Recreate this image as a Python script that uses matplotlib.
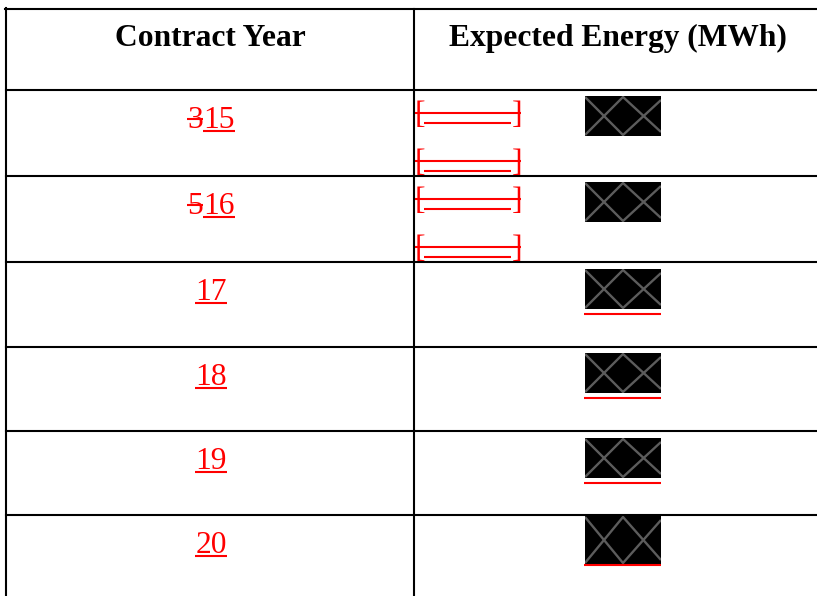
import matplotlib
matplotlib.use("Agg")
import matplotlib.pyplot as plt
from matplotlib.patches import Rectangle

# ---- table content ----
HEADERS    = ["Contract Year", "Expected Energy (MWh)"]
YEAR_OLD   = ["3", "5", "", "", "", ""]          # struck-out text
YEAR_NEW   = ["15", "16", "17", "18", "19", "20"]  # inserted (underlined) text
N_DELETED  = [2, 2, 0, 0, 0, 0]                  # struck "[____]" placeholders per row
BOX_UNDER  = [False, False, True, True, True, True]  # redacted value inserted

# ---- layout (pixels) ----
W, H = 817, 596
LEFT, MID = 6, 414
TOP = 9
ROW_LINES = [90, 176, 262, 347, 431, 515]
BOX_X0, BOX_X1 = 585, 661
BOX_OFF = [6, 6, 7, 6, 7, 1]
BOX_H = [40, 40, 40, 40, 40, 48]
FS = 22.7
RED = "#ff0000"
LW = 1.5

fig = plt.figure(figsize=(W / 100, H / 100), dpi=100)
ax = fig.add_axes([0, 0, 1, 1])
ax.set_xlim(0, W)
ax.set_ylim(H, 0)
ax.axis("off")

# grid
ax.plot([LEFT - 1, W], [TOP, TOP], color="black", lw=LW)
for y in ROW_LINES:
    ax.plot([LEFT, W], [y, y], color="black", lw=LW)
ax.plot([LEFT, LEFT], [TOP - 1, H], color="black", lw=LW)
ax.plot([MID, MID], [TOP, H], color="black", lw=LW)

# header
ax.text(210, 46, HEADERS[0], fontsize=FS, fontweight="bold",
        family="Liberation Serif", ha="center", va="baseline")
ax.text(618, 46, HEADERS[1], fontsize=FS, fontweight="bold",
        family="Liberation Serif", ha="center", va="baseline")

fig.canvas.draw()
renderer = fig.canvas.get_renderer()


def text_width(s):
    t = ax.text(0, 0, s, fontsize=FS, family="Liberation Serif")
    w = t.get_window_extent(renderer).width
    t.remove()
    return w


for i, top in enumerate(ROW_LINES):
    # contract year, redlined
    old, new = YEAR_OLD[i], YEAR_NEW[i]
    w_old = text_width(old) if old else 0
    w_new = text_width(new)
    x0 = 211 - (w_old + w_new) / 2
    base = top + 38
    if old:
        ax.text(x0, base, old, fontsize=FS, family="Liberation Serif",
                color=RED, ha="left", va="baseline")
        ax.plot([x0, x0 + w_old], [base - 9, base - 9], color=RED, lw=LW,
                solid_capstyle="butt")
    ax.text(x0 + w_old, base, new, fontsize=FS, family="Liberation Serif",
            color=RED, ha="left", va="baseline")
    ax.plot([x0 + w_old, x0 + w_old + w_new], [base + 3, base + 3],
            color=RED, lw=LW, solid_capstyle="butt")

    # deleted placeholders
    for k in range(N_DELETED[i]):
        b = top + 30.5 + 48 * k
        ax.text(415, b + 2.5, "[", fontsize=FS, family="Liberation Serif",
                color=RED, ha="left", va="baseline")
        ax.text(522, b + 2.5, "]", fontsize=FS, family="Liberation Serif",
                color=RED, ha="right", va="baseline")
        ax.plot([415, 521], [b - 7.8, b - 7.8], color=RED, lw=LW,
                solid_capstyle="butt")
        ax.plot([424, 511], [b + 2.5, b + 2.5], color=RED, lw=LW,
                solid_capstyle="butt")

    # redacted value box
    y0 = top + BOX_OFF[i]
    h = BOX_H[i]
    box = Rectangle((BOX_X0, y0), BOX_X1 - BOX_X0, h,
                    facecolor="black", edgecolor="none")
    ax.add_patch(box)
    xm = (BOX_X0 + BOX_X1) / 2
    zy0, zy1 = y0 + 1, y0 + h - 1
    for ys in ([zy1, zy0, zy1 - 3], [zy0, zy1, zy0 + 3]):
        ln, = ax.plot([BOX_X0, xm, BOX_X1], ys, color="#5c5c5c", lw=1.7,
                      solid_capstyle="butt")
        ln.set_clip_path(box)
    if BOX_UNDER[i]:
        uy = y0 + h + 5 if i < 5 else y0 + h + 1
        ax.plot([BOX_X0 - 1, BOX_X1], [uy, uy], color=RED, lw=LW,
                solid_capstyle="butt")

fig.savefig("out.png", dpi=100, facecolor="white")
